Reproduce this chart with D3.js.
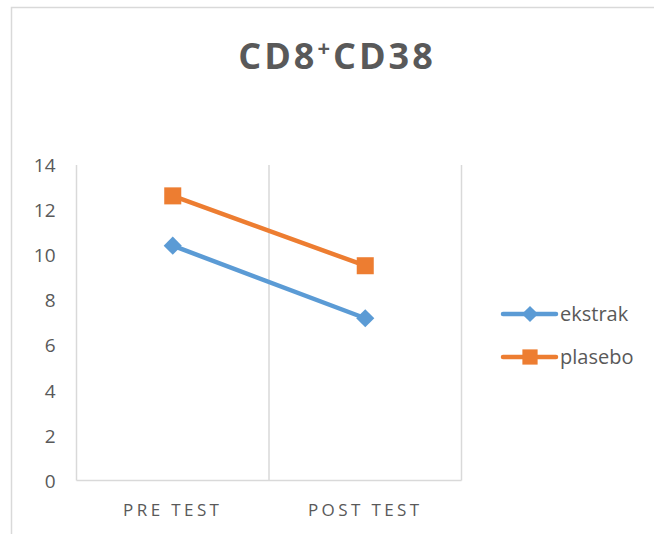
<!DOCTYPE html>
<html>
<head>
<meta charset="utf-8">
<script src="https://cdn.jsdelivr.net/npm/d3@7"></script>
<style>
  html, body { margin: 0; padding: 0; background: #fff; }
  svg { display: block; font-family: "Open Sans", "Noto Sans", "Liberation Sans", sans-serif; }
</style>
</head>
<body>
<svg id="chart" width="654" height="534"></svg>
<script>
// Chart data
const categories = ["PRE TEST", "POST TEST"];
const ekstrak = [10.42, 7.2];
const plasebo = [12.63, 9.53];
const yTicks = [0, 2, 4, 6, 8, 10, 12, 14];
const seriesNames = ["ekstrak", "plasebo"];

const colors = { ekstrak: "#5b9bd5", plasebo: "#ed7d31" };
const textColor = "#595959";
const gridColor = "#d9d9d9";

const svg = d3.select("#chart");

// Chart frame
svg.append("path")
  .attr("d", "M11.5,534 V7.5 H654")
  .attr("fill", "none")
  .attr("stroke", gridColor)
  .attr("stroke-width", 1.5);

const plot = { left: 76.5, right: 461.5, top: 165, bottom: 480.5 };

const y = d3.scaleLinear().domain([0, 14]).range([plot.bottom, plot.top]);
const xBand = d3.scaleBand().domain(categories).range([plot.left, plot.right]).padding(0);
const xc = c => xBand(c) + xBand.bandwidth() / 2;

// Vertical category separators
const seps = [plot.left, ...categories.map(c => xBand(c) + xBand.bandwidth())];
svg.append("g").selectAll("line").data(seps).join("line")
  .attr("x1", d => d).attr("x2", d => d)
  .attr("y1", plot.top).attr("y2", plot.bottom)
  .attr("stroke", gridColor).attr("stroke-width", 1.5);

// Baseline
svg.append("line")
  .attr("x1", plot.left).attr("x2", plot.right)
  .attr("y1", plot.bottom).attr("y2", plot.bottom)
  .attr("stroke", gridColor).attr("stroke-width", 1.5);

// Y axis labels
const yAxis = d3.axisLeft(y).tickValues(yTicks).tickSize(0).tickPadding(0);
const yg = svg.append("g").attr("transform", `translate(${plot.left - 21},0)`).call(yAxis);
yg.select(".domain").remove();
yg.selectAll("text")
  .attr("fill", textColor)
  .style("font-size", "19px")
  .style("font-family", "'Open Sans', sans-serif")
  .attr("dy", "0.35em");

// X axis labels
const xAxis = d3.axisBottom(xBand).tickSize(0).tickPadding(0);
const xg = svg.append("g").attr("transform", `translate(0,${plot.bottom + 35})`).call(xAxis);
xg.select(".domain").remove();
xg.selectAll("text")
  .attr("fill", textColor)
  .attr("dy", "0")
  .style("font-size", "17px")
  .style("letter-spacing", "3.4px")
  .style("font-family", "'Open Sans', sans-serif");

// Series lines and markers
const line = d3.line().x((d, i) => xc(categories[i])).y(d => y(d));
const series = [
  { name: "ekstrak", values: ekstrak, shape: d3.symbolSquare, size: 165, rot: 45 },
  { name: "plasebo", values: plasebo, shape: d3.symbolSquare, size: 290, rot: 0 }
];

series.forEach(s => {
  svg.append("path")
    .datum(s.values)
    .attr("d", line)
    .attr("fill", "none")
    .attr("stroke", colors[s.name])
    .attr("stroke-width", 4.5)
    .attr("stroke-linecap", "round");
  svg.append("g").selectAll("path").data(s.values).join("path")
    .attr("transform", (d, i) => `translate(${xc(categories[i])},${y(d)}) rotate(${s.rot})`)
    .attr("d", d3.symbol().type(s.shape).size(s.size))
    .attr("fill", colors[s.name]);
});

// Title
const title = svg.append("text")
  .attr("x", 337).attr("y", 69)
  .attr("text-anchor", "middle")
  .attr("fill", textColor)
  .style("font-size", "36px")
  .style("font-weight", "bold")
  .style("letter-spacing", "3px");
title.append("tspan").text("CD8");
title.append("tspan").text("+").attr("dy", -13).style("font-size", "22px");
title.append("tspan").text("CD38").attr("dy", 13);

// Legend
const legend = svg.append("g");
series.forEach((s, i) => {
  const ly = 314 + i * 43;
  const g = legend.append("g").attr("transform", `translate(0,${ly})`);
  g.append("line").attr("x1", 503).attr("x2", 556).attr("y1", 0).attr("y2", 0)
    .attr("stroke", colors[s.name]).attr("stroke-width", 4.5).attr("stroke-linecap", "round");
  g.append("path").attr("transform", `translate(530,0) rotate(${s.rot})`)
    .attr("d", d3.symbol().type(s.shape).size(s.size * 0.8))
    .attr("fill", colors[s.name]);
  g.append("text").attr("x", 560).attr("y", 0).attr("dy", "0.35em")
    .attr("fill", textColor).style("font-size", "20px").text(s.name);
});
</script>
</body>
</html>
